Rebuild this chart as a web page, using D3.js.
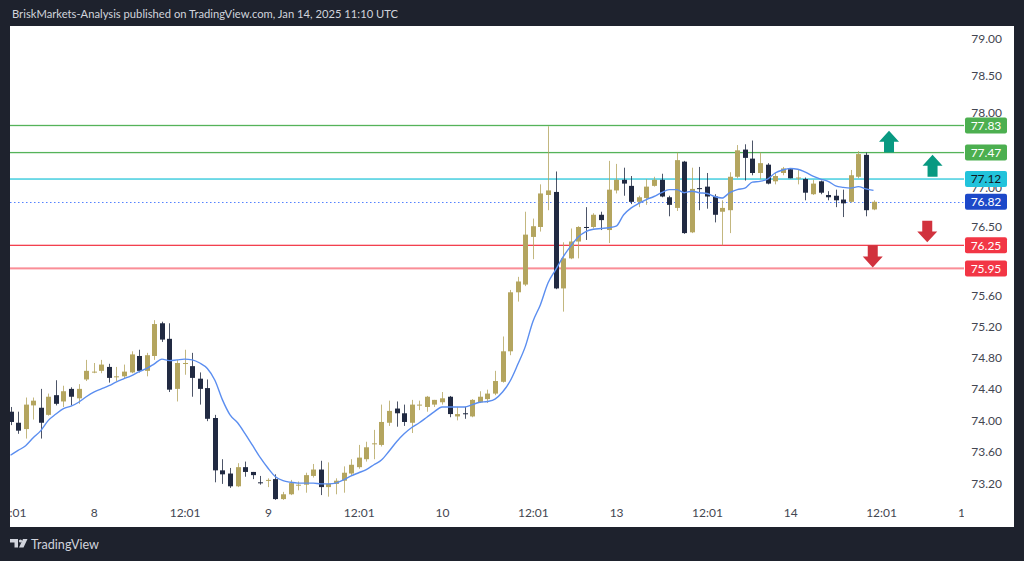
<!DOCTYPE html>
<html><head><meta charset="utf-8">
<script src="https://cdn.jsdelivr.net/npm/d3@7"></script>
<style>html,body{margin:0;padding:0;background:#1e222d;}svg{display:block}</style>
</head><body><svg id="c" width="1024" height="561"></svg>
<script>
// ---- data (hourly candles) ----
const open = [74.11,73.97,73.89,74.19,74.16,74.07,74.32,74.24,74.40,74.28,
74.52,74.61,74.63,74.68,74.55,74.56,74.61,74.82,74.63,74.82,
75.24,75.04,74.40,74.72,74.69,74.53,74.41,74.03,73.37,73.33,
73.17,73.41,73.35,73.22,73.24,73.26,73.01,73.07,73.18,73.19,
73.30,73.38,73.16,73.20,73.24,73.33,73.41,73.51,73.70,73.69,
73.97,74.15,74.09,73.97,74.19,74.17,74.20,74.23,74.30,74.05,
74.09,74.05,74.23,74.27,74.34,74.49,74.88,75.64,75.74,76.36,
76.49,76.91,76.95,75.69,76.08,76.30,76.49,76.49,76.65,76.45,
76.97,77.11,77.03,76.82,76.87,77.03,77.11,76.88,76.74,77.35,
76.42,77.00,77.02,76.89,76.69,76.71,77.15,77.51,77.39,77.20,
77.31,77.09,77.20,77.25,77.13,77.12,76.92,77.09,76.91,76.90,
76.85,76.82,77.15,77.44,76.72];
const high = [74.17,74.11,74.29,74.29,74.40,74.34,74.51,74.44,74.42,74.46,
74.77,74.73,74.77,74.72,74.68,74.71,74.88,74.90,74.86,75.28,
75.26,75.24,74.77,74.90,74.86,74.61,74.52,74.07,73.51,73.40,
73.46,73.48,73.35,73.30,73.27,73.32,73.10,73.25,73.23,73.34,
73.45,73.49,73.47,73.27,73.42,73.51,73.69,73.73,73.88,74.20,
74.25,74.24,74.20,74.26,74.25,74.31,74.26,74.36,74.31,74.17,
74.17,74.27,74.37,74.39,74.63,75.07,75.67,75.84,76.69,76.60,
77.05,77.82,77.22,76.29,76.47,76.50,76.75,76.67,76.69,77.36,
77.32,77.27,77.16,76.90,77.12,77.15,77.19,76.90,77.47,77.36,
77.27,77.28,77.20,76.92,76.84,77.21,77.57,77.58,77.63,77.47,
77.33,77.20,77.28,77.26,77.24,77.14,77.11,77.10,76.96,76.98,
76.98,77.24,77.49,77.47,76.84];
const low = [73.94,73.83,73.77,74.01,73.77,74.06,74.19,74.17,74.19,74.21,
74.50,74.60,74.60,74.48,74.50,74.53,74.60,74.61,74.56,74.77,
75.00,74.36,74.24,74.58,74.30,74.20,73.99,73.22,73.20,73.15,
73.16,73.29,73.26,73.19,73.16,73.00,73.00,73.06,73.12,73.09,
73.28,73.06,73.04,73.07,73.09,73.30,73.39,73.48,73.51,73.67,
73.93,73.92,73.93,73.84,74.13,74.11,74.17,74.20,74.04,74.00,
74.02,74.04,74.22,74.22,74.32,74.48,74.83,75.52,75.72,76.07,
76.43,76.71,75.68,75.39,76.07,76.08,76.32,76.47,76.45,76.28,
76.93,76.90,76.79,76.75,76.78,77.02,76.88,76.63,76.70,76.40,
76.41,76.71,76.73,76.55,76.25,76.41,77.13,77.10,77.17,77.12,
77.05,77.05,77.17,77.13,77.05,76.84,76.91,76.92,76.84,76.75,
76.62,76.81,77.13,76.63,76.71];
const close = [73.98,73.87,74.20,74.25,73.97,74.30,74.21,74.37,74.30,74.40,
74.63,74.62,74.71,74.54,74.56,74.62,74.84,74.63,74.83,75.23,
75.03,74.39,74.73,74.73,74.54,74.40,74.02,73.37,73.32,73.17,
73.41,73.35,73.31,73.21,73.25,73.01,73.07,73.21,73.19,73.31,
73.38,73.16,73.20,73.24,73.34,73.44,73.53,73.66,73.71,73.98,
74.12,74.09,73.98,74.20,74.20,74.30,74.26,74.28,74.08,74.08,
74.08,74.26,74.30,74.34,74.50,74.88,75.64,75.78,76.39,76.50,
76.93,76.97,75.69,76.08,76.30,76.49,76.48,76.65,76.58,76.98,
77.11,77.06,76.82,76.88,77.02,77.11,76.89,76.78,77.37,76.41,
76.99,76.99,76.89,76.65,76.74,77.15,77.50,77.40,77.20,77.33,
77.06,77.16,77.26,77.13,77.14,76.94,77.06,76.94,76.88,76.84,
76.80,77.17,77.45,76.71,76.82];
const ma = [73.56,73.62,73.68,73.78,73.87,74.00,74.08,74.15,74.18,74.23,
74.30,74.36,74.40,74.44,74.49,74.53,74.57,74.62,74.66,74.72,
74.78,74.76,74.77,74.78,74.77,74.73,74.66,74.51,74.26,74.07,
73.97,73.83,73.68,73.53,73.40,73.29,73.24,73.22,73.21,73.21,
73.21,73.20,73.20,73.21,73.25,73.30,73.34,73.38,73.44,73.50,
73.61,73.73,73.83,73.91,73.97,74.04,74.11,74.17,74.17,74.17,
74.17,74.20,74.23,74.24,74.27,74.36,74.50,74.71,74.94,75.26,
75.48,75.76,75.93,76.10,76.24,76.36,76.43,76.46,76.47,76.48,
76.50,76.65,76.74,76.80,76.85,76.89,76.94,76.98,76.98,76.94,
76.96,76.94,76.93,76.89,76.87,76.94,76.98,77.00,77.08,77.09,
77.12,77.20,77.24,77.26,77.25,77.21,77.16,77.12,77.09,77.03,
77.01,77.00,77.02,76.99,76.97];
const timeTickIndex = [0,11,23,34,46,57,69,80,92,103,115,126];
const timeTickLabels = ["12:01","8","12:01","9","12:01","10","12:01","13","12:01","14","12:01","15"];
const priceTicks = [79.00,78.50,78.00,77.00,76.50,76.00,75.60,75.20,74.80,74.40,74.00,73.60,73.20];
const levelValues = [77.83,77.47,77.12,76.82,76.25,75.95];
const arrowIndex = [116.05,121.8,121.1,113.9];
const arrowFrom  = [77.47,77.15,76.57,76.25];
const arrowTo    = [77.76,77.44,76.29,75.96];

// ---- drawing ----
const svg = d3.select("#c");
const FONT = "Lato, 'Noto Sans', sans-serif";
svg.append("rect").attr("width",1024).attr("height",561).attr("fill","#1e222d");
svg.append("rect").attr("x",10).attr("y",26).attr("width",1004).attr("height",501).attr("fill","#ffffff");

svg.append("text").attr("x",12).attr("y",17.5).attr("fill","#d1d4dc")
  .attr("font-family",FONT).attr("font-size",12)
  .attr("textLength",386).attr("lengthAdjust","spacingAndGlyphs")
  .text("BriskMarkets-Analysis published on TradingView.com, Jan 14, 2025 11:10 UTC");

const x = d3.scaleLinear().domain([0,114]).range([10.5,873.5]);
const y = d3.scaleLog().domain([73.2,79]).range([483.9,38.3]);

const defs = svg.append("defs");
defs.append("clipPath").attr("id","plot").append("rect").attr("x",10).attr("y",26).attr("width",954).attr("height",501);
defs.append("clipPath").attr("id","taxis").append("rect").attr("x",10).attr("y",500).attr("width",954).attr("height",27);

// price axis ticks
const yAxis = d3.axisRight(y).tickValues(priceTicks).tickFormat(d3.format(".2f")).tickSize(0);
const ya = svg.append("g").attr("transform","translate(964,0)").call(yAxis);
ya.select(".domain").remove();
ya.selectAll("text").attr("x",38).attr("text-anchor","end").attr("fill","#434651")
  .attr("font-family",FONT).attr("font-size",12);

// time axis
const xAxis = d3.axisBottom(x).tickValues(timeTickIndex).tickFormat((d,i)=>timeTickLabels[i]).tickSize(0);
const xa = svg.append("g").attr("clip-path","url(#taxis)").append("g").attr("transform","translate(0,500)").call(xAxis);
xa.select(".domain").remove();
xa.selectAll("text").attr("fill","#434651").attr("font-family",FONT).attr("font-size",12).attr("y",8);

const plot = svg.append("g").attr("clip-path","url(#plot)");

// level lines (drawn as thin filled bands)
const lineColor = ["#4caf50","#4caf50","#26c6da","#2962ff","#f23645","#f7525f"];
const lineAlpha = [0.95,0.95,0.8,0.8,0.95,0.65];
const lineThick = [1.3,1.3,1.6,1,1.3,2];
const lg = plot.append("g");
levelValues.forEach((v,k)=>{
  const yy = y(v);
  if (k === 3) {
    lg.append("line").attr("x1",10).attr("x2",964).attr("y1",Math.round(yy)+0.5).attr("y2",Math.round(yy)+0.5)
      .attr("stroke",lineColor[k]).attr("stroke-opacity",lineAlpha[k]).attr("stroke-width",1)
      .attr("stroke-dasharray","1.5,2.5");
  } else {
    lg.append("rect").attr("x",10).attr("width",954)
      .attr("y",yy - lineThick[k]/2).attr("height",lineThick[k])
      .attr("fill",lineColor[k]).attr("fill-opacity",lineAlpha[k]);
  }
});

// candles
const GOLD="#b4a55f", DARK="#212a42";
const idx = d3.range(open.length);
const cg = plot.append("g");
idx.forEach(i=>{
  const up = close[i] >= open[i];
  const col = up ? GOLD : DARK;
  const cx = Math.round(x(i));
  cg.append("line").attr("x1",cx+0.5).attr("x2",cx+0.5)
    .attr("y1",y(high[i])).attr("y2",y(low[i]))
    .attr("stroke",col).attr("stroke-width",1).attr("stroke-opacity",0.8);
  const top = y(Math.max(open[i],close[i])), bot = y(Math.min(open[i],close[i]));
  cg.append("rect").attr("x",cx-2).attr("width",5)
    .attr("y",top).attr("height",Math.max(1,bot-top)).attr("fill",col);
});

// moving average
plot.append("path").datum(ma)
  .attr("d",d3.line().x((d,i)=>x(i)).y(d=>y(d)).curve(d3.curveMonotoneX))
  .attr("fill","none").attr("stroke","#5b8ef0").attr("stroke-width",1.4);

// arrows
arrowIndex.forEach((ai,k)=>{
  const cx = x(ai), tail = y(arrowFrom[k]), tip = y(arrowTo[k]);
  const dir = Math.sign(tail - tip), L = Math.abs(tail-tip), h = L*0.5;
  const col = arrowTo[k] > arrowFrom[k] ? "#089981" : "#d1323d";
  const pts = [[cx,tip],[cx+10,tip+dir*h],[cx+5,tip+dir*h],[cx+5,tail],[cx-5,tail],[cx-5,tip+dir*h],[cx-10,tip+dir*h]];
  plot.append("path").attr("d","M"+pts.map(p=>p.join(",")).join("L")+"Z").attr("fill",col);
});

// level labels on price axis
const labelFill = ["#4caf50","#4caf50","#22c3db","#1c48c9","#f23645","#f23645"];
const labelText = ["#ffffff","#ffffff","#131722","#ffffff","#ffffff","#ffffff"];
levelValues.forEach((v,k)=>{
  const yy = y(v);
  svg.append("rect").attr("x",965).attr("y",yy-8).attr("width",42).attr("height",16).attr("rx",2)
    .attr("fill",labelFill[k]);
  svg.append("text").attr("x",986).attr("y",yy+4.3).attr("text-anchor","middle")
    .attr("fill",labelText[k]).attr("font-family",FONT).attr("font-size",12).text(d3.format(".2f")(v));
});

// TradingView logo
const logo = svg.append("g").attr("fill","#d1d4dc");
logo.append("path").attr("d","M10,539h8v8.5h-3.5v-5h-4.5z");
logo.append("circle").attr("cx",20.5).attr("cy",541).attr("r",1.6);
logo.append("path").attr("d","M23,539h4.5l-4,8.5h-4.5z");
logo.append("text").attr("x",31).attr("y",548.5).attr("font-family",FONT).attr("font-size",13)
  .attr("textLength",68).attr("lengthAdjust","spacingAndGlyphs").text("TradingView");
</script></body></html>
